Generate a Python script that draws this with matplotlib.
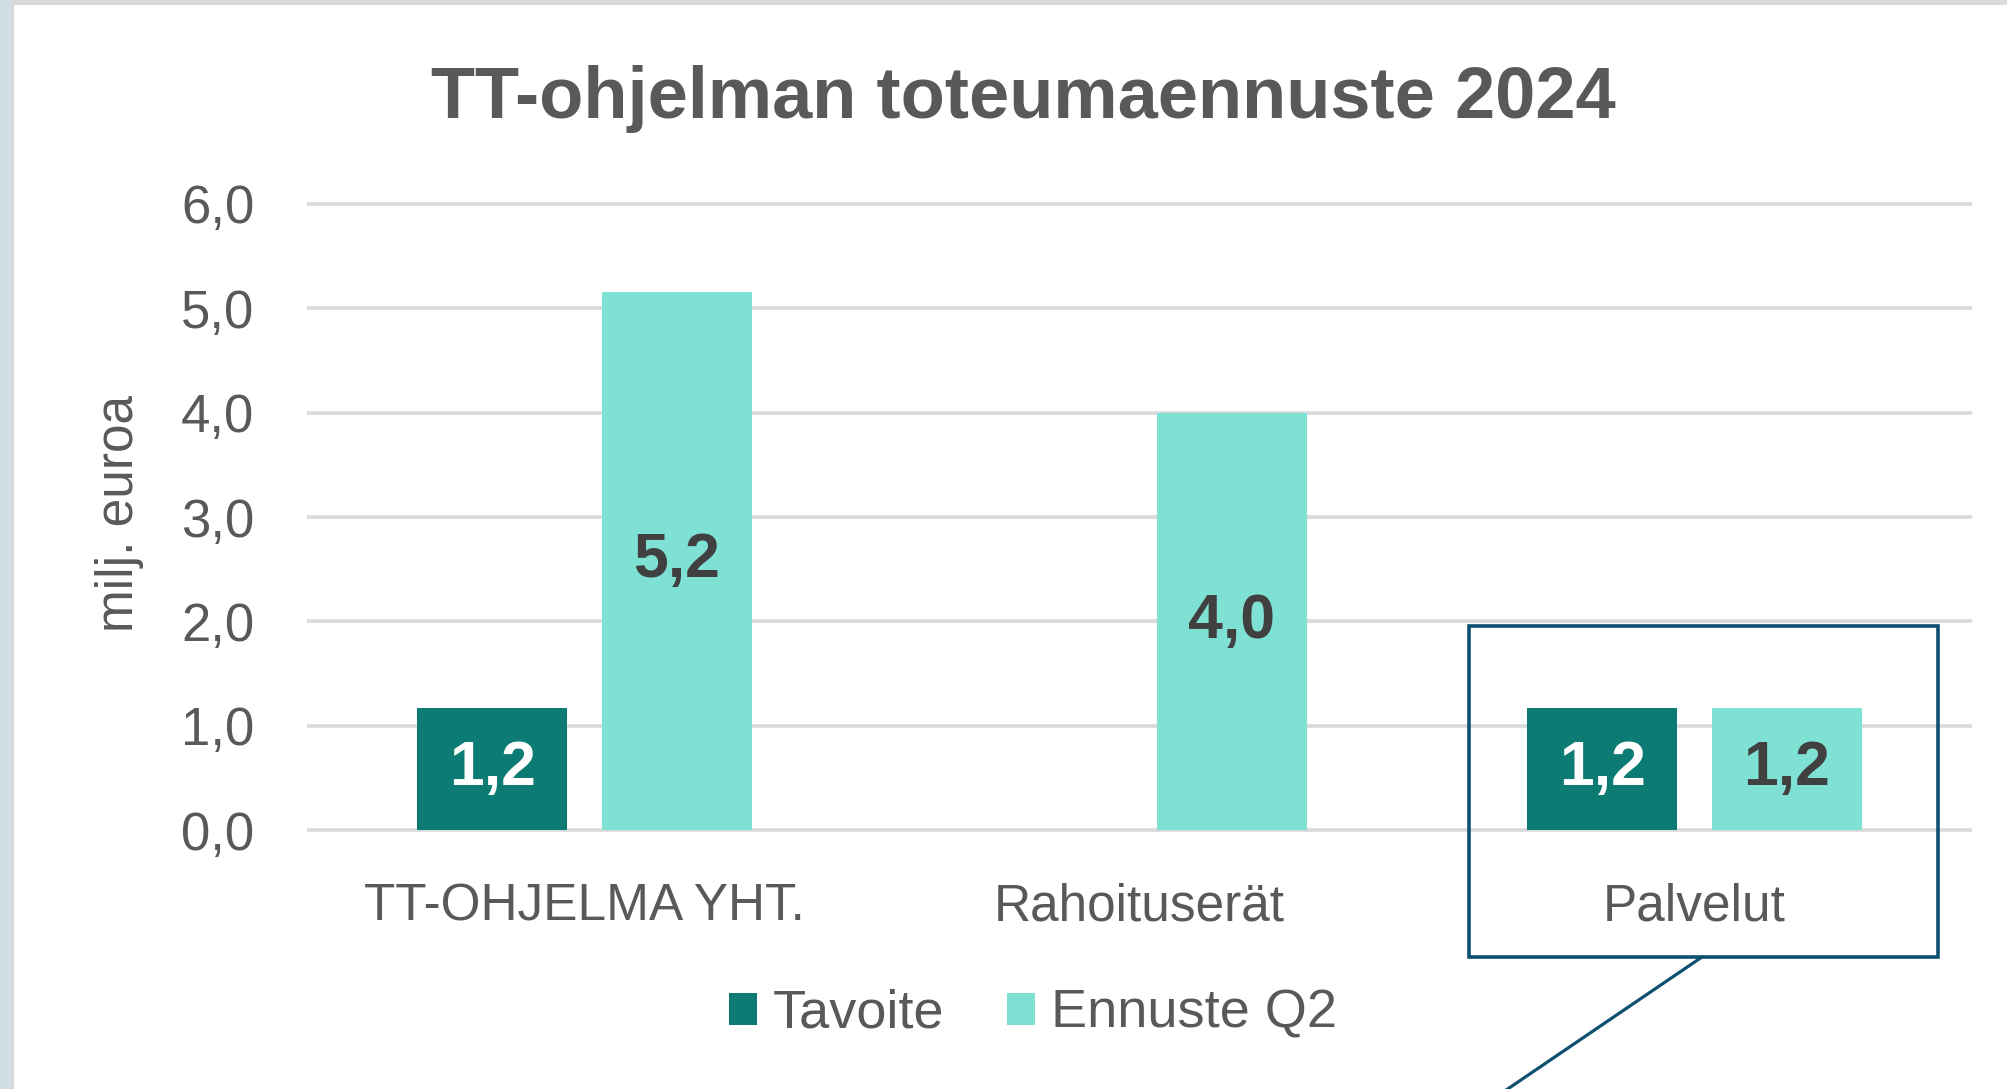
import matplotlib
matplotlib.use("Agg")
import matplotlib.pyplot as plt
from matplotlib.patches import Rectangle
from matplotlib.lines import Line2D
import numpy as np

categories = ["TT-OHJELMA YHT.", "Rahoituserät", "Palvelut"]
tavoite = [1.17, np.nan, 1.17]
ennuste_q2 = [5.16, 4.0, 1.17]
series_names = ["Tavoite", "Ennuste Q2"]
y_ticks = [0, 1, 2, 3, 4, 5, 6]

dark = "#0B7B73"
light = "#7FE1D4"
text_gray = "#595959"
callout = "#0E5070"

plt.rcParams["font.family"] = ["Liberation Sans", "DejaVu Sans"]

fig = plt.figure(figsize=(20.08, 10.89), dpi=100)
fig.patch.set_facecolor("white")

# frame bits from the screenshot: blue strip on the left, grey edges
fig.add_artist(Rectangle((0, 0), 11.5 / 2008, 1, transform=fig.transFigure,
                         facecolor="#D1DEE5", edgecolor="none"))
fig.add_artist(Rectangle((11.5 / 2008, 0), 3 / 2008, 1, transform=fig.transFigure,
                         facecolor="#D9D9D9", edgecolor="none"))
fig.add_artist(Rectangle((11.5 / 2008, 1 - 5 / 1089), 1, 5 / 1089, transform=fig.transFigure,
                         facecolor="#D9D9D9", edgecolor="none"))

ax = fig.add_axes([307 / 2008, 0.2359, 1665 / 2008, 0.5787])

x = np.arange(len(categories))
width = 0.27
offset = 0.166

bars1 = ax.bar(x - offset, tavoite, width, color=dark, label=series_names[0], zorder=3)
bars2 = ax.bar(x + offset, ennuste_q2, width, color=light, label=series_names[1], zorder=3)


def fmt(v):
    return ("%.1f" % v).replace(".", ",")


for rect, v in zip(bars1, tavoite):
    if np.isnan(v):
        continue
    ax.text(rect.get_x() + rect.get_width() / 2, v / 2, fmt(v), ha="center", va="center",
            fontsize=45, fontweight="bold", color="white", zorder=4)
for rect, v in zip(bars2, ennuste_q2):
    ax.text(rect.get_x() + rect.get_width() / 2, v / 2, fmt(v), ha="center", va="center",
            fontsize=45, fontweight="bold", color="#404040", zorder=4)

ax.set_xlim(-0.5, len(categories) - 0.5)
ax.set_ylim(-0.02, 6.02)
ax.set_yticks(y_ticks)
ax.set_yticklabels([fmt(t) for t in y_ticks])
ax.set_xticks(x)
ax.set_xticklabels(categories)
ax.tick_params(axis="y", length=0, pad=38, labelsize=38, labelcolor=text_gray)
ax.tick_params(axis="x", length=0, pad=36, labelsize=37, labelcolor=text_gray)
ax.grid(axis="y", color="#D9D9D9", linewidth=2.6, zorder=0)
ax.set_axisbelow(True)
for s in ax.spines.values():
    s.set_visible(False)

ax.set_ylabel("milj. euroa", fontsize=37, color=text_gray, va="center")
ax.yaxis.set_label_coords((120 - 307) / 1665, (832.1 - 513) / 630.2)

fig.text(1023 / 2008, 1 - 118 / 1089, "TT-ohjelman toteumaennuste 2024", ha="center",
         va="baseline", fontsize=52, fontweight="bold", color=text_gray)

ax.legend(loc="center", bbox_to_anchor=(1033 / 2008, 1 - 1014 / 1089),
          bbox_transform=fig.transFigure, ncol=2, frameon=False, fontsize=39,
          labelcolor=text_gray, handlelength=0.52, handleheight=0.52,
          handletextpad=0.3, columnspacing=1.15)

# callout box around "Palvelut"
fig.add_artist(Rectangle((1469 / 2008, 1 - 957 / 1089), (1938 - 1469) / 2008, (957 - 626) / 1089,
                         transform=fig.transFigure, facecolor="none", edgecolor=callout,
                         linewidth=2.6))
fig.add_artist(Line2D([1702 / 2008, 1490 / 2008], [1 - 957 / 1089, 1 - 1101 / 1089],
                      transform=fig.transFigure, color=callout, linewidth=2.3))

fig.savefig("out.png", dpi=100)
